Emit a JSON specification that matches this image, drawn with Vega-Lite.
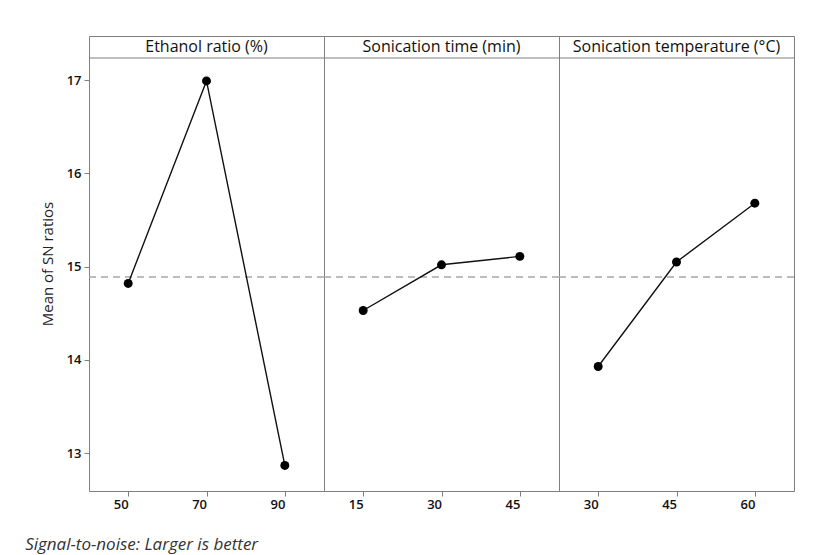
{
  "$schema": "https://vega.github.io/schema/vega-lite/v6.json",
  "background": "white",
  "padding": {"left": 25, "top": 35, "right": 5, "bottom": 5},
  "bounds": "flush",
  "title": {
    "text": "Signal-to-noise: Larger is better",
    "orient": "bottom",
    "anchor": "start",
    "frame": "bounds",
    "font": "Open Sans",
    "fontSize": 17,
    "fontStyle": "italic",
    "fontWeight": "normal",
    "color": "#333333",
    "dx": -15,
    "offset": 25
  },
  "data": {
    "values": [
      {"factor": "Ethanol ratio (%)", "level": 50, "snr": 14.82},
      {"factor": "Ethanol ratio (%)", "level": 70, "snr": 16.99},
      {"factor": "Ethanol ratio (%)", "level": 90, "snr": 12.87},
      {"factor": "Sonication time (min)", "level": 15, "snr": 14.53},
      {"factor": "Sonication time (min)", "level": 30, "snr": 15.02},
      {"factor": "Sonication time (min)", "level": 45, "snr": 15.11},
      {"factor": "Sonication temperature (°C)", "level": 30, "snr": 13.93},
      {"factor": "Sonication temperature (°C)", "level": 45, "snr": 15.05},
      {"factor": "Sonication temperature (°C)", "level": 60, "snr": 15.68}
    ]
  },
  "facet": {
    "column": {
      "field": "factor",
      "type": "nominal",
      "sort": ["Ethanol ratio (%)", "Sonication time (min)", "Sonication temperature (°C)"],
      "title": null,
      "header": {
        "labelOrient": "top",
        "labelPadding": -19,
        "labelFont": "Open Sans",
        "labelFontSize": 16,
        "labelColor": "#111111"
      }
    }
  },
  "spacing": 0,
  "resolve": {"scale": {"x": "independent"}},
  "spec": {
    "width": 235,
    "height": 455,
    "layer": [
      {
        "transform": [{"aggregate": [{"op": "count", "as": "n"}], "groupby": ["factor"]}],
        "mark": {"type": "rule", "color": "#a6a6a6", "strokeWidth": 1.5, "strokeDash": [7, 5]},
        "encoding": {"y": {"datum": 14.89, "type": "quantitative"}}
      },
      {
        "transform": [{"aggregate": [{"op": "count", "as": "n"}], "groupby": ["factor"]}],
        "mark": {"type": "rule", "color": "#7f7f7f", "strokeWidth": 1},
        "encoding": {"y": {"datum": 17.236, "type": "quantitative"}}
      },
      {
        "mark": {"type": "line", "color": "#111111", "strokeWidth": 1.4},
        "encoding": {
          "x": {"field": "level", "type": "ordinal"},
          "y": {"field": "snr", "type": "quantitative"}
        }
      },
      {
        "mark": {"type": "point", "filled": true, "color": "#000000", "size": 80, "opacity": 1},
        "encoding": {
          "x": {
            "field": "level",
            "type": "ordinal",
            "scale": {"type": "point", "padding": 0.5},
            "axis": {
              "title": null,
              "labelAngle": 0,
              "domain": false,
              "tickColor": "#7f7f7f",
              "tickSize": 5,
              "labelFont": "Open Sans",
              "labelFontSize": 13,
              "labelFontWeight": 600,
              "labelColor": "#111111",
              "labelPadding": 8
            }
          },
          "y": {
            "field": "snr",
            "type": "quantitative",
            "scale": {"domain": [12.596, 17.4716], "nice": false, "zero": false},
            "axis": {
              "title": "Mean of SN ratios",
              "values": [13, 14, 15, 16, 17],
              "format": "d",
              "grid": false,
              "domain": false,
              "tickColor": "#7f7f7f",
              "tickSize": 5,
              "labelFont": "Open Sans",
              "labelFontSize": 13,
              "labelFontWeight": 600,
              "labelColor": "#111111",
              "labelPadding": 3,
              "titleFont": "Open Sans",
              "titleFontSize": 15,
              "titleFontWeight": "normal",
              "titleColor": "#222222",
              "titlePadding": 11
            }
          }
        }
      }
    ]
  },
  "config": {
    "view": {"stroke": "#7f7f7f", "strokeWidth": 1}
  }
}
